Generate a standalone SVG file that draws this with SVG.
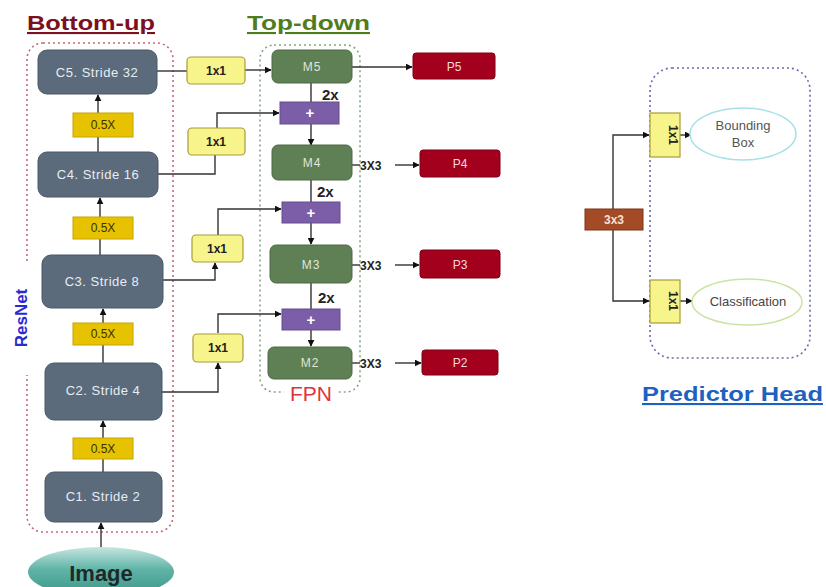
<svg xmlns="http://www.w3.org/2000/svg" width="826" height="587" viewBox="0 0 826 587">
<defs>
<marker id="ah" viewBox="0 0 10 10" refX="9" refY="5" markerWidth="7" markerHeight="7" orient="auto-start-reverse" markerUnits="userSpaceOnUse">
<path d="M0,0 L10,5 L0,10 z" fill="#111"/>
</marker>
<linearGradient id="imgGrad" x1="0" y1="0" x2="0" y2="1">
<stop offset="0" stop-color="#c5e6e0"/>
<stop offset="0.45" stop-color="#5fb3a6"/>
<stop offset="1" stop-color="#3a9688"/>
</linearGradient>
<style>
text{font-family:"Liberation Sans",Arial,sans-serif;}
.cbox{fill:#5b6b7c;stroke:#4a5866;stroke-width:1;}
.ctext{fill:#e8edf2;font-size:13px;text-anchor:middle;letter-spacing:0.5px;}
.half{fill:#e6c200;stroke:#c9a400;stroke-width:1;}
.halft{fill:#3a3000;font-size:12px;text-anchor:middle;}
.one{fill:#f8f48c;stroke:#a89c3a;stroke-width:1.2;}
.onet{fill:#222;font-size:12px;font-weight:bold;text-anchor:middle;}
.mbox{fill:#5f7f55;stroke:#4e6b45;stroke-width:1;}
.mtext{fill:#dfe8da;font-size:12px;text-anchor:middle;letter-spacing:1px;}
.plus{fill:#7b5ea7;stroke:#654c8c;stroke-width:1;}
.plust{fill:#fff;font-size:15px;font-weight:bold;text-anchor:middle;}
.pbox{fill:#a3001e;stroke:#7d0016;stroke-width:1;}
.ptext{fill:#f3d8dc;font-size:12px;text-anchor:middle;}
.lbl{fill:#222;font-size:15px;font-weight:bold;}
.lbl3{fill:#222;font-size:12px;font-weight:bold;}
.ln{fill:none;stroke:#333;stroke-width:1.4;}
.arr{fill:none;stroke:#333;stroke-width:1.4;marker-end:url(#ah);}
.title{font-size:21px;font-weight:bold;}
</style>
</defs>
<rect width="826" height="587" fill="#fff"/>

<!-- titles -->
<text class="title" x="27" y="30" fill="#7a1020" text-decoration="underline" textLength="128" lengthAdjust="spacingAndGlyphs">Bottom-up</text>
<text class="title" x="247" y="30" fill="#4f7d1e" text-decoration="underline" textLength="123" lengthAdjust="spacingAndGlyphs">Top-down</text>
<text class="title" x="642" y="401" fill="#1d62c0" text-decoration="underline" textLength="181" lengthAdjust="spacingAndGlyphs">Predictor Head</text>

<!-- containers -->
<g id="bottomup-container">
<rect x="27" y="43" width="146" height="489" rx="16" fill="none" stroke="#c46a78" stroke-width="1.6" stroke-dasharray="2,3"/>
<rect x="12" y="262" width="26" height="113" fill="#fff"/>
<text transform="translate(27,318) rotate(-90)" font-size="17" font-weight="bold" fill="#2a2ad0" text-anchor="middle">ResNet</text>
</g>
<g id="fpn-container">
<rect x="260" y="45" width="100" height="347" rx="14" fill="none" stroke="#86a586" stroke-width="1.6" stroke-dasharray="2,3"/>
<rect x="284" y="384" width="54" height="16" fill="#fff"/>
<text x="311" y="401" font-size="21" fill="#e0323a" text-anchor="middle">FPN</text>
</g>
<g id="head-container">
<rect x="650" y="68" width="160" height="290" rx="22" fill="none" stroke="#6a6ab0" stroke-width="1.6" stroke-dasharray="2,3"/>
</g>

<!-- connectors -->
<g id="connectors">
<line class="arr" x1="101" y1="548" x2="101" y2="523"/>
<line class="arr" x1="103" y1="472" x2="103" y2="421"/>
<line class="arr" x1="103" y1="363" x2="103" y2="309"/>
<line class="arr" x1="100" y1="255" x2="100" y2="198"/>
<line class="arr" x1="98" y1="152" x2="98" y2="95"/>

<line class="ln" x1="157" y1="71" x2="187" y2="71"/>
<line class="arr" x1="245" y1="70" x2="271" y2="70"/>
<line class="arr" x1="352" y1="67" x2="412" y2="67"/>

<polyline class="ln" points="158,174 215,174 215,155"/>
<polyline class="arr" points="217,128 217,113 279,113"/>
<polyline class="arr" points="163,280 215,280 215,263"/>
<polyline class="arr" points="218,235 218,209 281,209"/>
<polyline class="arr" points="162,392 218,392 218,363"/>
<polyline class="arr" points="218,333 218,314 281,314"/>

<line class="ln" x1="311" y1="83" x2="311" y2="102"/>
<line class="arr" x1="311" y1="124" x2="311" y2="145"/>
<line class="ln" x1="311" y1="180" x2="311" y2="202"/>
<line class="arr" x1="311" y1="223" x2="311" y2="244"/>
<line class="ln" x1="311" y1="283" x2="311" y2="309"/>
<line class="arr" x1="311" y1="330" x2="311" y2="346"/>

<line class="ln" x1="352" y1="165" x2="360" y2="165"/>
<line class="arr" x1="395" y1="165" x2="419" y2="165"/>
<line class="ln" x1="352" y1="265" x2="360" y2="265"/>
<line class="arr" x1="395" y1="265" x2="419" y2="265"/>
<line class="ln" x1="352" y1="363" x2="360" y2="363"/>
<line class="arr" x1="395" y1="363" x2="421" y2="363"/>

<polyline class="arr" points="613,209 613,135 649,135"/>
<polyline class="arr" points="613,230 613,301 649,301"/>
<line class="arr" x1="680" y1="135" x2="691" y2="135"/>
<line class="arr" x1="680" y1="301" x2="692" y2="301"/>
</g>

<!-- bottom-up nodes -->
<g id="image"><ellipse cx="101" cy="572" rx="73" ry="25" fill="url(#imgGrad)"/><text x="101" y="581" font-size="22" font-weight="bold" fill="#1e2a2a" text-anchor="middle">Image</text></g>
<g id="c1"><rect class="cbox" x="45" y="472" width="117" height="50" rx="9"/><text class="ctext" x="103" y="501">C1. Stride 2</text></g>
<g id="half1"><rect class="half" x="73" y="438" width="60" height="21"/><text class="halft" x="103" y="453">0.5X</text></g>
<g id="c2"><rect class="cbox" x="45" y="363" width="117" height="57" rx="9"/><text class="ctext" x="103" y="395">C2. Stride 4</text></g>
<g id="half2"><rect class="half" x="73" y="323" width="60" height="22"/><text class="halft" x="103" y="338">0.5X</text></g>
<g id="c3"><rect class="cbox" x="42" y="255" width="121" height="53" rx="9"/><text class="ctext" x="102" y="286">C3. Stride 8</text></g>
<g id="half3"><rect class="half" x="73" y="217" width="60" height="22"/><text class="halft" x="103" y="232">0.5X</text></g>
<g id="c4"><rect class="cbox" x="38" y="152" width="120" height="45" rx="9"/><text class="ctext" x="98" y="179">C4. Stride 16</text></g>
<g id="half4"><rect class="half" x="73" y="113" width="60" height="24"/><text class="halft" x="103" y="129">0.5X</text></g>
<g id="c5"><rect class="cbox" x="38" y="50" width="119" height="44" rx="9"/><text class="ctext" x="97" y="77">C5. Stride 32</text></g>

<!-- 1x1 lateral -->
<g id="lat5"><rect class="one" x="187" y="57" width="58" height="27" rx="4"/><text class="onet" x="216" y="75">1x1</text></g>
<g id="lat4"><rect class="one" x="188" y="128" width="57" height="27" rx="4"/><text class="onet" x="216" y="146">1x1</text></g>
<g id="lat3"><rect class="one" x="192" y="235" width="51" height="27" rx="4"/><text class="onet" x="217" y="253">1x1</text></g>
<g id="lat2"><rect class="one" x="193" y="334" width="50" height="28" rx="4"/><text class="onet" x="218" y="352">1x1</text></g>

<!-- FPN nodes -->
<g id="m5"><rect class="mbox" x="272" y="50" width="80" height="33" rx="6"/><text class="mtext" x="312" y="71">M5</text></g>
<text class="lbl" x="322" y="100">2x</text>
<g id="plus5"><rect class="plus" x="280" y="102" width="59" height="22"/><text class="plust" x="310" y="118">+</text></g>
<g id="m4"><rect class="mbox" x="272" y="145" width="80" height="35" rx="6"/><text class="mtext" x="312" y="167">M4</text></g>
<text class="lbl" x="317" y="197">2x</text>
<g id="plus4"><rect class="plus" x="282" y="202" width="58" height="21"/><text class="plust" x="311" y="218">+</text></g>
<g id="m3"><rect class="mbox" x="270" y="245" width="82" height="38" rx="6"/><text class="mtext" x="311" y="269">M3</text></g>
<text class="lbl" x="318" y="303">2x</text>
<g id="plus3"><rect class="plus" x="282" y="309" width="58" height="21"/><text class="plust" x="311" y="325">+</text></g>
<g id="m2"><rect class="mbox" x="268" y="347" width="84" height="32" rx="6"/><text class="mtext" x="310" y="367">M2</text></g>

<text class="lbl3" x="360" y="170">3X3</text>
<text class="lbl3" x="360" y="270">3X3</text>
<text class="lbl3" x="360" y="368">3X3</text>

<g id="p5"><rect class="pbox" x="413" y="53" width="82" height="26" rx="3"/><text class="ptext" x="454" y="71">P5</text></g>
<g id="p4"><rect class="pbox" x="420" y="150" width="80" height="27" rx="3"/><text class="ptext" x="460" y="168">P4</text></g>
<g id="p3"><rect class="pbox" x="420" y="250" width="80" height="28" rx="3"/><text class="ptext" x="460" y="269">P3</text></g>
<g id="p2"><rect class="pbox" x="422" y="350" width="76" height="25" rx="3"/><text class="ptext" x="460" y="367">P2</text></g>

<!-- predictor head -->
<g id="head3x3"><rect x="585" y="209" width="58" height="21" fill="#a34a26" stroke="#7e3518"/><text x="614" y="224" font-size="12" font-weight="bold" fill="#f4e2d8" text-anchor="middle">3x3</text></g>
<g id="head1x1a"><rect class="one" x="650" y="113" width="30" height="44"/><text class="onet" transform="translate(669,135) rotate(90)">1x1</text></g>
<g id="head1x1b"><rect class="one" x="650" y="280" width="30" height="43"/><text class="onet" transform="translate(669,301) rotate(90)">1x1</text></g>
<g id="bbox"><ellipse cx="743" cy="134" rx="53" ry="26" fill="#fff" stroke="#a6e0e8" stroke-width="1.5"/><text x="743" y="130" font-size="13" fill="#555" text-anchor="middle">Bounding</text><text x="743" y="147" font-size="13" fill="#555" text-anchor="middle">Box</text></g>
<g id="cls"><ellipse cx="747" cy="302" rx="55" ry="23" fill="#fff" stroke="#c9e4a4" stroke-width="1.5"/><text x="748" y="306" font-size="13" fill="#444" text-anchor="middle">Classification</text></g>
</svg>
